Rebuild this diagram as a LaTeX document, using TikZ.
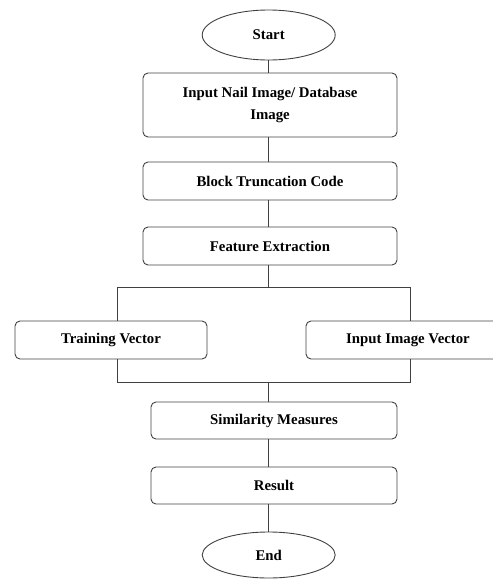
\documentclass[tikz,border=0pt]{standalone}
\usepackage{fontspec}
\setmainfont{Liberation Serif}
\usetikzlibrary{shapes.geometric}
\begin{document}
\begin{tikzpicture}[x=1pt,y=-1pt,
  every node/.style={font=\fontsize{14.8}{22}\selectfont\bfseries, text=black},
  stepbox/.style={draw=black!75, line width=0.9pt, rounded corners=5pt, inner sep=0pt, align=center},
  term/.style={draw=black!75, line width=0.9pt, ellipse, inner sep=0pt},
  conn/.style={draw=black!75, line width=0.9pt}]
\useasboundingbox (0,0) rectangle (493,579);
\node[term, minimum width=133pt, minimum height=50pt] (start) at (268.7,35) {Start};
\node[stepbox, minimum width=254pt, minimum height=64pt] (inp) at (270,105) {Input Nail Image/ Database\\Image};
\node[stepbox, minimum width=254pt, minimum height=38pt] (btc) at (270,181) {Block Truncation Code};
\node[stepbox, minimum width=254pt, minimum height=38pt] (fe) at (270,246) {Feature Extraction};
\node[stepbox, minimum width=192pt, minimum height=38pt] (tv) at (111,340) {Training Vector};
\node[stepbox, minimum width=204pt, minimum height=38pt] (iiv) at (408,340) {Input Image Vector};
\node[stepbox, minimum width=246pt, minimum height=37pt] (sm) at (274,420.5) {Similarity Measures};
\node[stepbox, minimum width=246pt, minimum height=37pt] (res) at (274,485.5) {Result};
\node[term, minimum width=133pt, minimum height=46pt] (end) at (268.7,555) {End};
\coordinate (sp) at (268.7,287);
\coordinate (L) at (117,287);
\coordinate (R) at (410,287);
\coordinate (jl) at (117,382);
\coordinate (jr) at (410,382);
\coordinate (j) at (268.7,382);
\draw[conn] (start.south) -- (start.south |- inp.north);
\draw[conn] (start.south |- inp.south) -- (start.south |- btc.north);
\draw[conn] (start.south |- btc.south) -- (start.south |- fe.north);
\draw[conn] (start.south |- fe.south) -- (sp);
\draw[conn] (L) -- (R);
\draw[conn] (L) -- (L |- tv.north);
\draw[conn] (R) -- (R |- iiv.north);
\draw[conn] (jl |- tv.south) -- (jl) -- (jr) -- (jr |- iiv.south);
\draw[conn] (j) -- (j |- sm.north);
\draw[conn] (j |- sm.south) -- (j |- res.north);
\draw[conn] (j |- res.south) -- (end.north);
\end{tikzpicture}
\end{document}
